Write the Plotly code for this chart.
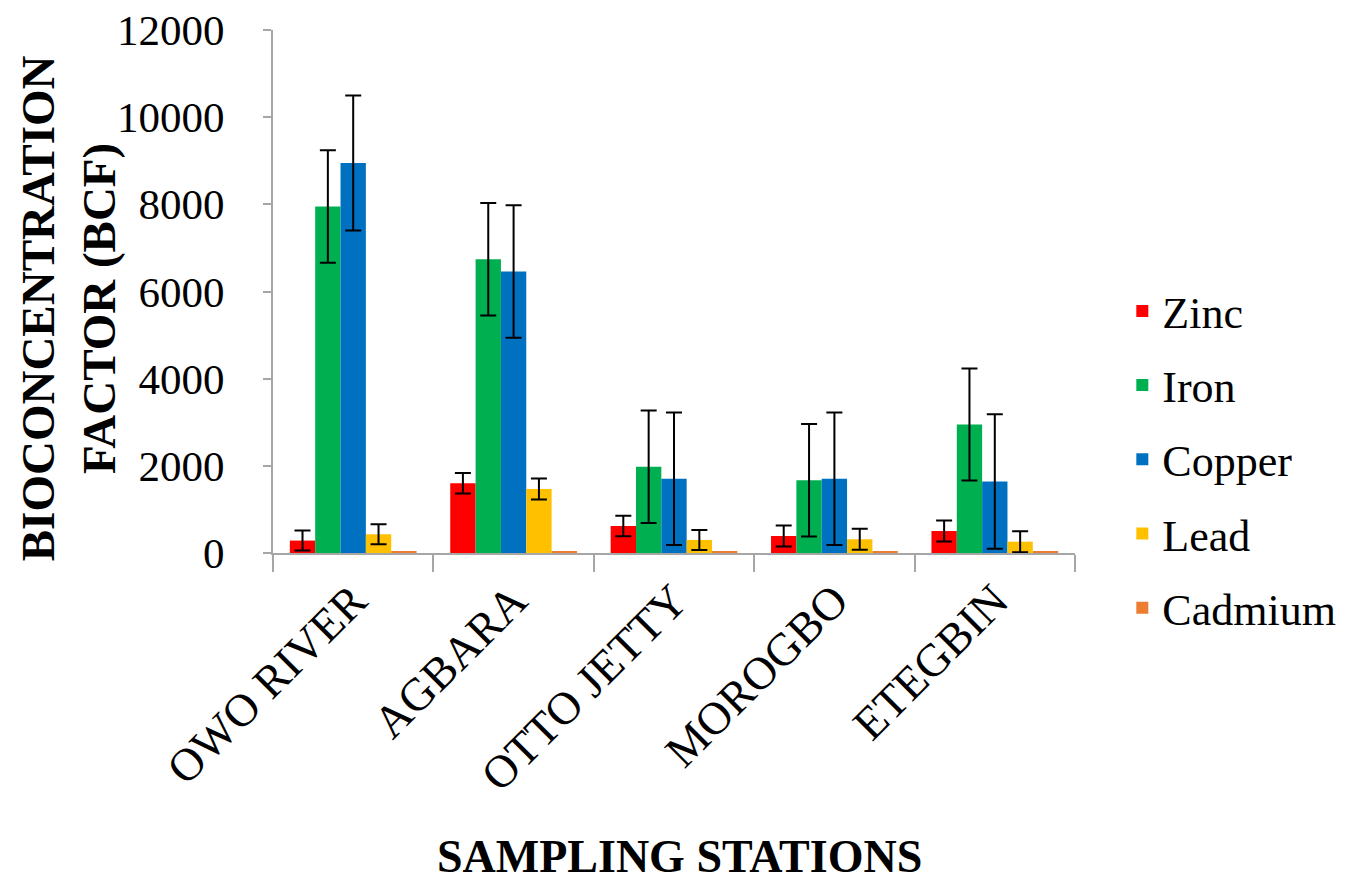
import plotly.graph_objects as go

stations = ["OWO RIVER", "AGBARA", "OTTO JETTY", "MOROGBO", "ETEGBIN"]

zinc = [285, 1600, 620, 390, 505]
zinc_err = [230, 235, 235, 240, 240]
iron = [7950, 6740, 1980, 1670, 2950]
iron_err = [1290, 1290, 1290, 1290, 1285]
copper = [8950, 6460, 1705, 1705, 1640]
copper_err = [1550, 1520, 1520, 1520, 1545]
lead = [430, 1470, 300, 315, 260]
lead_err = [230, 240, 230, 240, 240]
cadmium = [30, 30, 30, 30, 30]

series = [
    ("Zinc", zinc, zinc_err, "#FF0000"),
    ("Iron", iron, iron_err, "#00B050"),
    ("Copper", copper, copper_err, "#0070C0"),
    ("Lead", lead, lead_err, "#FFC000"),
    ("Cadmium", cadmium, None, "#ED7D31"),
]

FONT = "Liberation Serif"

fig = go.Figure()
for i, (name, vals, errs, color) in enumerate(series):
    eb = None
    if errs is not None:
        eb = dict(type="data", array=errs, visible=True, color="black",
                  thickness=2, width=8)
    fig.add_trace(go.Bar(
        x=stations, y=vals, name=name, marker=dict(color=color, line=dict(width=0)),
        error_y=eb, legendgroup=name,
    ))

fig.update_layout(
    width=1340, height=883,
    margin=dict(l=265, r=273, t=22, b=338, autoexpand=False),
    paper_bgcolor="white", plot_bgcolor="white",
    barmode="group", bargap=0.21, bargroupgap=0,
    font=dict(family=FONT, color="black", size=44),
    showlegend=True,
    legend=dict(x=1.059, y=0.53, xanchor="left", yanchor="top",
                font=dict(family=FONT, size=44, color="black"),
                tracegroupgap=14, itemwidth=30, bgcolor="rgba(0,0,0,0)"),
    xaxis=dict(
        showline=True, linecolor="#A6A6A6", linewidth=2,
        ticks="outside", tickson="boundaries", ticklen=17, tickcolor="#A6A6A6",
        tickwidth=2, tickangle=-45, automargin=False,
        tickfont=dict(family=FONT, size=46, color="black"),
        showgrid=False, zeroline=False,
    ),
    yaxis=dict(
        range=[0, 12000], dtick=2000, tickformat="d", showline=True, linecolor="#A6A6A6",
        linewidth=2, ticks="outside", ticklen=8, tickcolor="#A6A6A6", tickwidth=2,
        tickfont=dict(family=FONT, size=43, color="black"),
        ticklabelstandoff=30, ticklabeloverflow="allow", automargin=False,
        showgrid=False, zeroline=False,
    ),
    annotations=[
        dict(text="<b>BIOCONCENTRATION<br>FACTOR (BCF)</b>", xref="paper", yref="paper",
             x=-0.2556, y=0.468, xanchor="center", yanchor="middle", textangle=-90,
             showarrow=False, font=dict(family=FONT, size=47, color="black")),
        dict(text="<b>SAMPLING STATIONS</b>", xref="paper", yref="paper",
             x=0.507, y=-0.58, xanchor="center", yanchor="middle",
             showarrow=False, font=dict(family=FONT, size=46, color="black")),
    ],
)

fig.write_html("out.html")
